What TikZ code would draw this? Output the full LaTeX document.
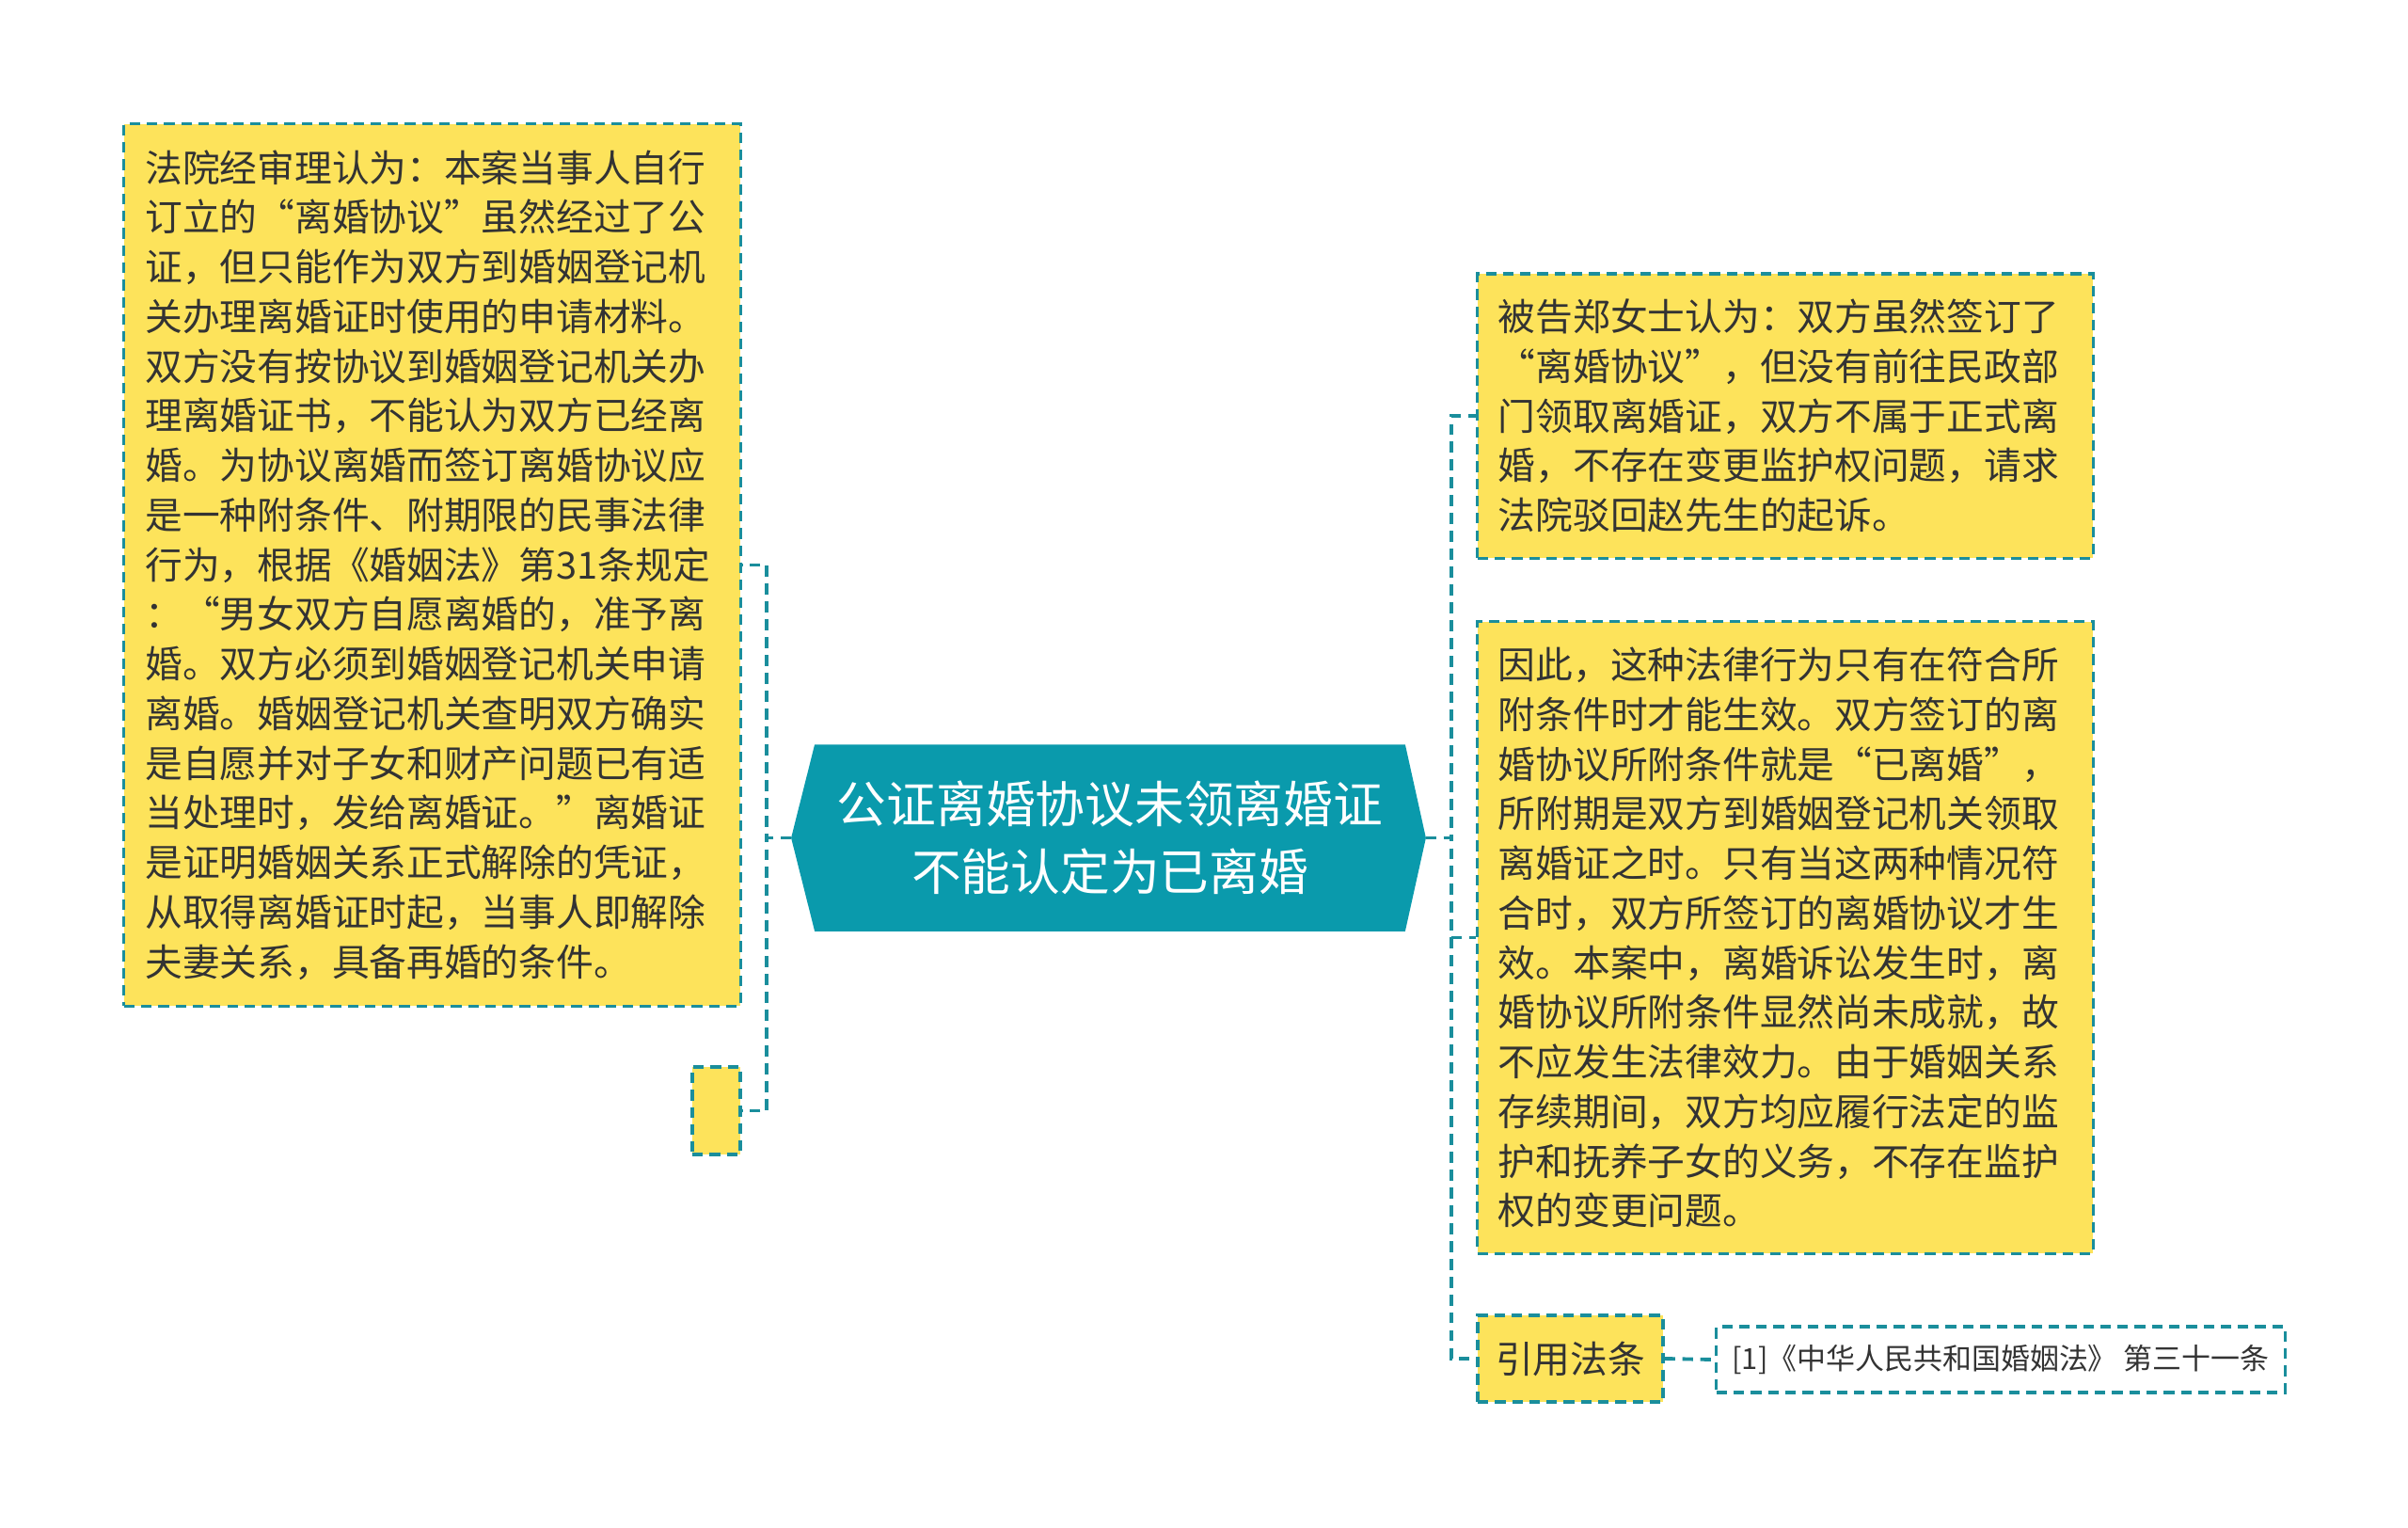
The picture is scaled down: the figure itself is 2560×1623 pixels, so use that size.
\documentclass[tikz,border=0pt]{standalone}
\usepackage{fontspec}
\setmainfont{Noto Sans CJK SC}
\usepackage{tikz}
\usetikzlibrary{positioning,backgrounds}
\definecolor{mapteal}{HTML}{1A8E9C}
\definecolor{mapyellow}{HTML}{FDE35B}
\definecolor{rootteal}{HTML}{0A9AAC}
\definecolor{maptext}{HTML}{333333}

\begin{document}
\begin{tikzpicture}[x=0.01cm,y=-0.01cm]
  \tikzstyle{topic}=[rectangle,draw=mapteal,fill=mapyellow,line width=0.9pt,
                     dash pattern=on 3.2pt off 2pt,text=maptext,inner sep=0pt,
                     font=\fontsize{11.3pt}{15pt}\selectfont]
  \tikzstyle{para}=[topic,align=left,text width=6.1cm]
  \tikzstyle{cite}=[topic,fill=white,font=\fontsize{8.8pt}{11pt}\selectfont]
  \tikzstyle{link}=[draw=mapteal,line width=1.1pt,dash pattern=on 3.2pt off 2.2pt]
  \useasboundingbox (0,0) rectangle (2560,1623);

  % centre
  \node [text=white,align=center,minimum width=6.26cm,minimum height=1.97cm,
         font=\fontsize{15pt}{20.5pt}\selectfont] (root) at (1180,890.5)
        {公证离婚协议未领离婚证\\不能认定为已离婚};
  \coordinate (rootL) at ([xshift=-0.25cm]root.west);
  \coordinate (rootR) at ([xshift=0.22cm]root.east);
  \begin{scope}[on background layer]
    \fill [rootteal] (root.north west) -- (root.north east) -- (rootR)
      -- (root.south east) -- (root.south west) -- (rootL) -- cycle;
  \end{scope}

  % left side
  \node [para,minimum width=6.55cm,minimum height=9.37cm] (court) at (459.5,600.5)
        {法院经审理认为：本案当事人自行\\
         订立的“离婚协议”虽然经过了公\\
         证，但只能作为双方到婚姻登记机\\
         关办理离婚证时使用的申请材料。\\
         双方没有按协议到婚姻登记机关办\\
         理离婚证书，不能认为双方已经离\\
         婚。为协议离婚而签订离婚协议应\\
         是一种附条件、附期限的民事法律\\
         行为，根据《婚姻法》第31条规定\\
         ：“男女双方自愿离婚的，准予离\\
         婚。双方必须到婚姻登记机关申请\\
         离婚。婚姻登记机关查明双方确实\\
         是自愿并对子女和财产问题已有适\\
         当处理时，发给离婚证。”离婚证\\
         是证明婚姻关系正式解除的凭证，\\
         从取得离婚证时起，当事人即解除\\
         夫妻关系，具备再婚的条件。};
  \node [topic,minimum width=0.51cm,minimum height=0.93cm] (blank) at (761.5,1180.5) {};

  % right side
  \node [para,minimum width=6.54cm,minimum height=3.02cm] (defendant) at (1898,442)
        {被告郑女士认为：双方虽然签订了\\
         “离婚协议”，但没有前往民政部\\
         门领取离婚证，双方不属于正式离\\
         婚，不存在变更监护权问题，请求\\
         法院驳回赵先生的起诉。};
  \node [para,minimum width=6.54cm,minimum height=6.71cm] (reason) at (1898,996.5)
        {因此，这种法律行为只有在符合所\\
         附条件时才能生效。双方签订的离\\
         婚协议所附条件就是“已离婚”，\\
         所附期是双方到婚姻登记机关领取\\
         离婚证之时。只有当这两种情况符\\
         合时，双方所签订的离婚协议才生\\
         效。本案中，离婚诉讼发生时，离\\
         婚协议所附条件显然尚未成就，故\\
         不应发生法律效力。由于婚姻关系\\
         存续期间，双方均应履行法定的监\\
         护和抚养子女的义务，不存在监护\\
         权的变更问题。};
  \node [topic,minimum width=1.97cm,minimum height=0.92cm] (lawref) at (1669.5,1444) {引用法条};
  \node [cite,minimum width=6.04cm,minimum height=0.70cm] (article) at (2127,1445)
        {[1]《中华人民共和国婚姻法》 第三十一条};

  % connectors
  \draw [link] (rootL) -- ++(-26,0) |- (court.east);
  \draw [link] (rootL) -- ++(-26,0) |- (blank.east);
  \draw [link] (rootR) -- ++(27,0) |- (defendant.west);
  \draw [link] (rootR) -- ++(27,0) |- (reason.west);
  \draw [link] (rootR) -- ++(27,0) |- (lawref.west);
  \draw [link] (lawref.east) -- (article.west);
\end{tikzpicture}
\end{document}
